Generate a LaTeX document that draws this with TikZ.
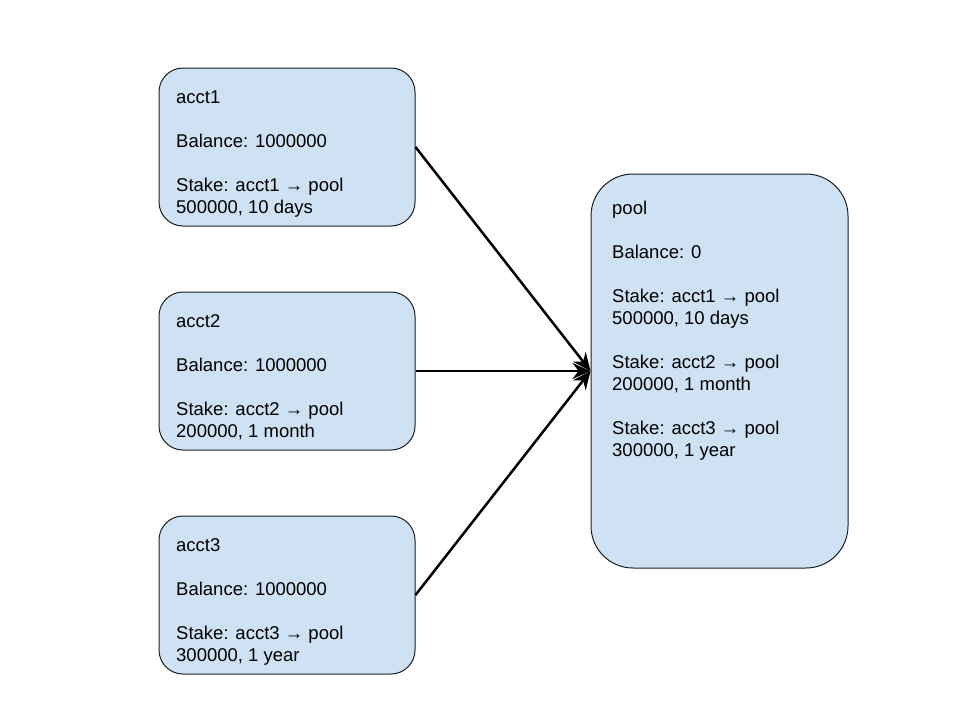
\documentclass[tikz,border=0pt]{standalone}
\usepackage{fontspec}
\setmainfont{Liberation Sans}
\usetikzlibrary{arrows.meta}
\definecolor{boxfill}{HTML}{CFE2F3}
\definecolor{boxline}{HTML}{1F1F1F}
\tikzset{
  card/.style={draw=boxline, line width=1pt, fill=boxfill, rounded corners=#1, inner sep=0pt},
  cardtext/.style={anchor=north west, align=left, inner sep=0pt, font=\fontsize{18.5pt}{22pt}\selectfont},
  link/.style={line width=2.5pt, -{Stealth[length=18pt, width=16pt, inset=6pt]}}
}
\begin{document}
\begin{tikzpicture}[x=1pt, y=-1pt]
\useasboundingbox[fill=white] (0,0) rectangle (960,720);
\node[card=24pt, minimum width=256pt, minimum height=158pt] (acct1) at (287,147) {};
\node[card=24pt, minimum width=256pt, minimum height=158pt] (acct2) at (287,371) {};
\node[card=24pt, minimum width=256pt, minimum height=158pt] (acct3) at (287,595) {};
\node[card=42pt, minimum width=257pt, minimum height=394pt] (pool) at (719.5,371) {};
\node[cardtext] (t1) at (176,90.5) {acct1\\[22pt]Balance: 1000000\\[22pt]Stake: acct1 → pool\\500000, 10 days};
\node[cardtext] (t2) at (176,314.5) {acct2\\[22pt]Balance: 1000000\\[22pt]Stake: acct2 → pool\\200000, 1 month};
\node[cardtext] (t3) at (176,538.5) {acct3\\[22pt]Balance: 1000000\\[22pt]Stake: acct3 → pool\\300000, 1 year};
\node[cardtext] (tp) at (612,200.5) {pool\\[22pt]Balance: 0\\[22pt]Stake: acct1 → pool\\500000, 10 days\\[22pt]Stake: acct2 → pool\\200000, 1 month\\[22pt]Stake: acct3 → pool\\300000, 1 year};
\draw[link] (acct1.east) -- (pool.west);
\draw[link] (acct2.east) -- (pool.west);
\draw[link] (acct3.east) -- (pool.west);
\end{tikzpicture}
\end{document}
